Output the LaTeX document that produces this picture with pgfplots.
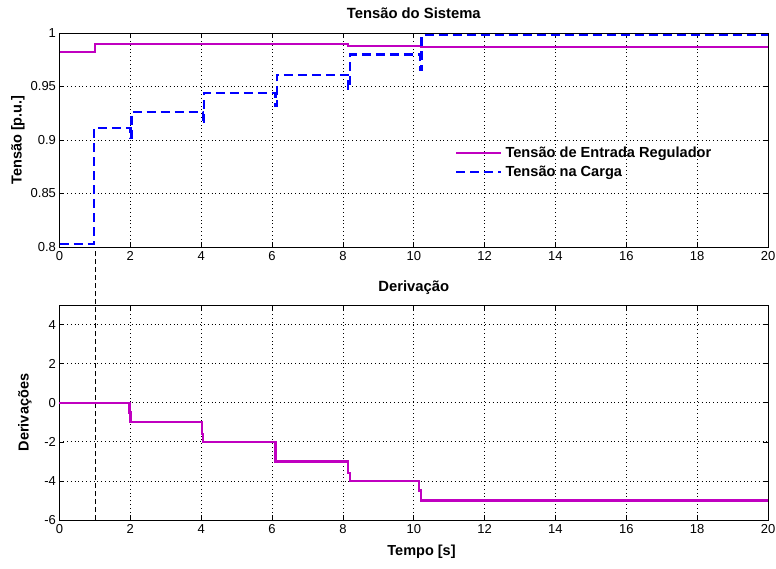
\documentclass[border=0pt]{standalone}
\usepackage{fontspec}
\setmainfont{Liberation Sans}
\usepackage{pgfplots}
\pgfplotsset{compat=1.18}
\definecolor{mymag}{RGB}{192,0,192}
\definecolor{myblue}{RGB}{0,0,255}
\begin{document}
\begin{tikzpicture}
\useasboundingbox (0pt,0pt) rectangle (776pt,-568pt);
\pgfplotsset{
  common/.style={
    scale only axis, width=708.5pt,
    xmin=0, xmax=20, xtick={0,2,...,20},
    grid=major, grid style={dash pattern=on 0.8pt off 3pt, black, line width=0.8pt},
    tick align=inside, xtick pos=both, ytick pos=both,
    major tick length=5pt,
    tick style={black, line width=0.6pt},
    axis line style={black, line width=0.8pt},
    ticklabel style={font=\fontsize{13}{15}\selectfont},
    /pgf/number format/assume math mode=true,
    xticklabel style={yshift=-1pt},
    title style={font=\bfseries\fontsize{14.8}{16}\selectfont, at={(axis description cs:0.5,1)}, anchor=base, yshift=9pt},
    label style={font=\bfseries\fontsize{14.5}{16}\selectfont},
  }
}
\begin{axis}[common, height=214pt, at={(59.5pt,-247pt)}, anchor=south west,
  ymin=0.8, ymax=1, ytick={0.8,0.85,0.9,0.95,1},
  yticklabels={0.8,0.85,0.9,0.95,1},
  title={Tensão do Sistema},
  ylabel={Tensão [p.u.]},
  ylabel style={at={(axis description cs:-0.0586,0.5)}, anchor=center},
  legend style={at={(axis description cs:0.554,0.485)}, anchor=north west, draw=none, fill=none,
    font=\bfseries\fontsize{14.6}{16}\selectfont, row sep=2.5pt,
    nodes={inner sep=2pt}},
  legend cell align=left,
  legend image code/.code={\draw[#1] (0pt,0pt) -- (45pt,0pt);},
]
\addplot[mymag, line width=2pt] coordinates {
(0,0.982)(1.0,0.982)(1.0,0.990)(4.05,0.990)(4.05,0.9895)(8.15,0.9895)(8.15,0.988)(10.2,0.988)(10.2,0.987)(20,0.987)};
\addlegendentry{\hspace{1pt}Tensão de Entrada Regulador}
\addplot[myblue, line width=2.3pt, dash pattern=on 9pt off 5pt] coordinates {
(0,0.803) (0.97,0.803) (0.97,0.911) (2.0,0.911) (2.0,0.902) (2.03,0.902) (2.03,0.926) (4.05,0.926) (4.05,0.915) (4.08,0.915) (4.08,0.944) (6.1,0.944) (6.1,0.932) (6.13,0.932) (6.13,0.961) (8.15,0.961) (8.15,0.948) (8.2,0.948) (8.2,0.980) (10.17,0.980) (10.17,0.966) (10.22,0.966) (10.22,0.998) (20,0.998)};
\addlegendentry{\hspace{1pt}Tensão na Carga}
\end{axis}
\begin{axis}[common, height=215pt, at={(59.5pt,-520pt)}, anchor=south west,
  ymin=-6, ymax=5, ytick={-6,-4,...,4},
  title={Derivação},
  title style={yshift=-1pt},
  ylabel={Derivações},
  ylabel style={at={(axis description cs:-0.0487,0.5)}, anchor=center},
  xlabel={Tempo [s]},
  xlabel style={at={(axis description cs:0.511,-0.149)}, anchor=center},
  clip=false,
]
\addplot[black, line width=0.8pt, dash pattern=on 5pt off 3pt] coordinates {(1,-6) (1,7.97)};
\addplot[mymag, line width=2.4pt] coordinates {
(0,0)(1.98,0)(1.98,-0.5)(2.0,-0.5)(2.0,-1)(4.02,-1)(4.02,-1.6)(4.05,-1.6)(4.05,-2)(6.1,-2)(6.1,-3)(8.15,-3)(8.15,-3.6)(8.2,-3.6)(8.2,-4)(10.15,-4)(10.15,-4.5)(10.2,-4.5)(10.2,-5)(20,-5)};
\end{axis}
\end{tikzpicture}
\end{document}
